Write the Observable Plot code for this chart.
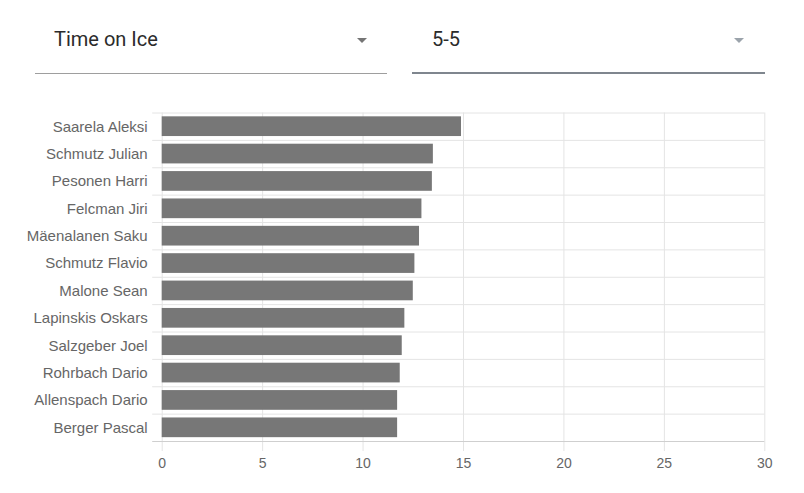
<!DOCTYPE html>
<html>
<head>
<meta charset="utf-8">
<script src="https://cdn.jsdelivr.net/npm/d3@7"></script>
<script src="https://cdn.jsdelivr.net/npm/@observablehq/plot@0.6"></script>
<style>
  html, body { margin: 0; padding: 0; background: #fff; }
  #page { position: relative; width: 804px; height: 493px; overflow: hidden; }
  .sel-text { position: absolute; top: 27px; line-height: 24px; font-family: Roboto, sans-serif; font-size: 20px; color: #2b2b2b; white-space: nowrap; }
  .arrow { position: absolute; width: 0; height: 0; border-left: 5px solid transparent; border-right: 5px solid transparent; border-top: 5px solid #757575; }
  .line { position: absolute; }
  #chart { position: absolute; left: 0; top: 100px; }
  #chart svg { display: block; }
</style>
</head>
<body>
<div id="page">
  <div class="sel-text" id="metric" style="left:54px;"></div>
  <div class="arrow" style="left:357px; top:38px;"></div>
  <div class="line" style="left:35px; top:73px; width:352px; height:1px; background:#9e9e9e;"></div>

  <div class="sel-text" id="situation" style="left:432px;"></div>
  <div class="arrow" style="left:734px; top:38px; border-top-color:#9ba3ab;"></div>
  <div class="line" style="left:412px; top:72px; width:353px; height:2px; background:#7f868e;"></div>

  <div id="chart"></div>
</div>
<script>
const metricLabel = "Time on Ice";
const situationLabel = "5-5";

const names = [
  "Saarela Aleksi", "Schmutz Julian", "Pesonen Harri", "Felcman Jiri",
  "Mäenalanen Saku", "Schmutz Flavio", "Malone Sean", "Lapinskis Oskars",
  "Salzgeber Joel", "Rohrbach Dario", "Allenspach Dario", "Berger Pascal"
];
const values = [14.9, 13.5, 13.45, 12.93, 12.81, 12.58, 12.5, 12.08, 11.95, 11.85, 11.72, 11.72];
const xTicks = [0, 5, 10, 15, 20, 25, 30];

document.getElementById("metric").textContent = metricLabel;
document.getElementById("situation").textContent = situationLabel;

const data = names.map((name, i) => ({name, value: values[i]}));

const W = 804, H = 393, mT = 12.5, mB = 52, mL = 161.7, mR = 39.7;
const step = (H - mT - mB) / names.length;
const grid = "#e4e4e4";

const chart = Plot.plot({
  width: W,
  height: H,
  marginTop: mT,
  marginBottom: mB,
  marginLeft: mL,
  marginRight: mR,
  style: {fontFamily: "'Liberation Sans', Arial, sans-serif", background: "transparent", overflow: "visible"},
  x: {domain: [0, 30], ticks: xTicks, label: null},
  y: {domain: names, paddingInner: 0.28, paddingOuter: 0.14, round: false, label: null},
  marks: [
    Plot.ruleX(xTicks, {x: d => d, stroke: grid, strokeWidth: 1, insetBottom: -10}),
    Plot.ruleY(names, {y: d => d, dy: -step / 2, stroke: grid, insetLeft: -9.5}),
    Plot.barX(data, {x: "value", y: "name", fill: "#777777"}),
    Plot.ruleY([names[names.length - 1]], {y: d => d, dy: step / 2, stroke: "#cfcfcf", insetLeft: -9.5}),
    Plot.axisX({ticks: xTicks, tickSize: 0, tickPadding: 17, fontSize: 14, fill: "#666", label: null}),
    Plot.axisY({tickSize: 0, tickPadding: 14.5, fontSize: 15, fill: "#666", label: null})
  ]
});
document.getElementById("chart").appendChild(chart);
</script>
</body>
</html>
